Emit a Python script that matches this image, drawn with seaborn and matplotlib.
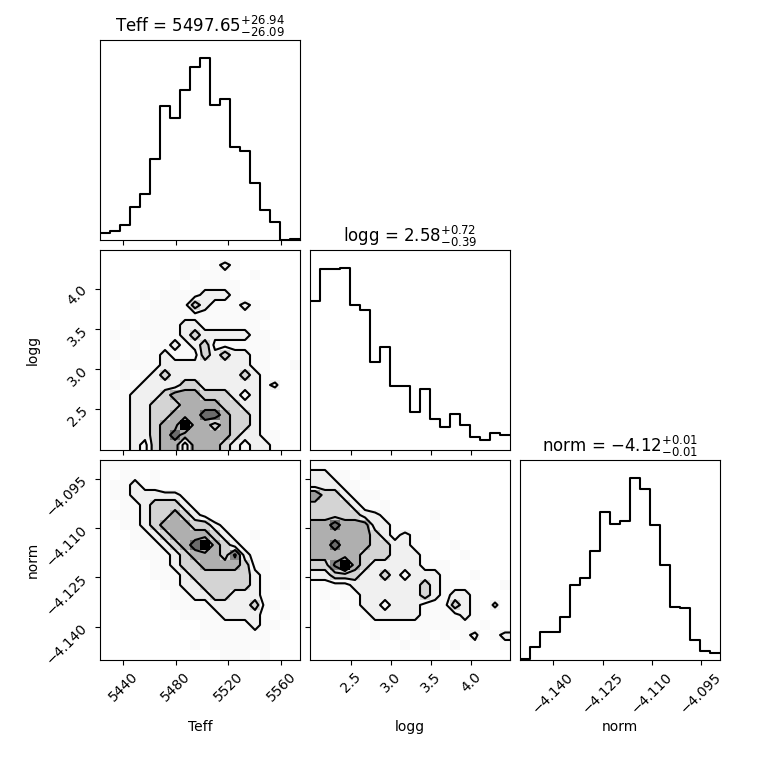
import numpy as np
import pandas as pd
import matplotlib
matplotlib.use("Agg")
import matplotlib.pyplot as plt
from matplotlib.colors import LinearSegmentedColormap
import seaborn as sns

plt.rcParams["font.family"] = ["DejaVu Sans"]

# parameter names and the summary printed in each title
labels = ["Teff", "logg", "norm"]
medians = ["5497.65", "2.58", "-4.12"]
err_lo = ["26.09", "0.39", "0.01"]
err_hi = ["26.94", "0.72", "0.01"]

# axis ranges and tick positions
teff_range = (5422.3, 5574.4)
logg_range = (1.995, 4.48)
norm_range = (-4.1501, -4.0893)
teff_ticks = [5440, 5480, 5520, 5560]
logg_ticks = [2.5, 3.0, 3.5, 4.0]
norm_ticks = [-4.140, -4.125, -4.110, -4.095]

# 1-D histograms (20 bins, relative counts)
teff_hist = [22, 28, 44, 98, 138, 244, 402, 366, 450, 518,
             545, 404, 423, 280, 267, 170, 90, 54, 0, 4]
logg_hist = [447, 540, 540, 544, 435, 420, 263, 309, 190, 190,
             113, 182, 92, 68, 108, 74, 38, 30, 52, 44]
norm_hist = [4, 38, 85, 85, 128, 224, 246, 326, 445, 409,
             418, 545, 512, 405, 286, 160, 155, 60, 27, 22]

# 2-D histograms (20x20, estimated), rows from top of panel to bottom
logg_vs_teff = [
    [0, 0, 0, 0, 0, 1, 0, 0, 0, 0, 0, 0, 0, 0, 0, 0, 0, 0, 0, 0],
    [0, 0, 0, 0, 0, 0, 0, 0, 1, 1, 0, 1, 2, 1, 0, 0, 0, 0, 0, 0],
    [0, 0, 0, 0, 0, 0, 0, 0, 1, 0, 1, 1, 1, 0, 0, 1, 0, 0, 0, 0],
    [0, 0, 0, 0, 0, 0, 0, 1, 0, 1, 1, 1, 1, 1, 0, 0, 0, 0, 0, 0],
    [0, 0, 0, 0, 1, 0, 1, 1, 1, 1, 2, 2, 2, 1, 0, 0, 0, 0, 0, 0],
    [0, 0, 0, 1, 0, 1, 1, 1, 1, 4, 2, 1, 1, 1, 2, 1, 0, 0, 0, 0],
    [0, 0, 0, 0, 1, 1, 1, 1, 1, 1, 1, 1, 1, 1, 1, 1, 1, 0, 0, 0],
    [0, 0, 1, 0, 1, 1, 1, 1, 2, 2, 1, 1, 1, 1, 1, 1, 0, 0, 0, 0],
    [0, 1, 0, 1, 1, 1, 1, 1, 2, 4, 2, 2, 2, 2, 2, 1, 1, 0, 0, 0],
    [0, 0, 0, 1, 0, 1, 1, 2, 1, 2, 4, 1, 1, 1, 1, 1, 1, 1, 0, 0],
    [0, 1, 0, 1, 1, 1, 2, 1, 1, 1, 4, 2, 4, 2, 2, 1, 1, 0, 0, 0],
    [0, 0, 1, 1, 1, 1, 2, 2, 2, 2, 2, 2, 2, 2, 2, 1, 1, 0, 0, 1],
    [0, 0, 1, 0, 1, 2, 4, 2, 2, 2, 2, 2, 2, 2, 4, 2, 1, 0, 0, 0],
    [0, 1, 0, 1, 2, 2, 2, 2, 4, 4, 2, 2, 2, 2, 2, 2, 1, 2, 0, 0],
    [0, 0, 1, 2, 2, 2, 4, 6, 6, 6, 4, 4, 4, 2, 1, 2, 1, 0, 0, 0],
    [0, 0, 1, 2, 2, 4, 4, 4, 6, 6, 6, 6, 4, 4, 2, 2, 1, 0, 0, 0],
    [0, 0, 1, 2, 2, 4, 4, 6, 6, 6, 9, 9, 6, 4, 4, 2, 1, 0, 0, 0],
    [0, 0, 1, 2, 2, 4, 6, 6, 13, 6, 6, 4, 6, 4, 4, 2, 1, 0, 0, 0],
    [0, 0, 1, 2, 2, 4, 6, 9, 6, 6, 6, 6, 6, 4, 2, 2, 1, 1, 0, 0],
    [0, 0, 1, 2, 1, 4, 6, 6, 2, 6, 6, 6, 4, 2, 1, 2, 2, 1, 0, 0],
]
norm_vs_teff = [
    [1, 1, 1, 0, 0, 0, 0, 0, 0, 0, 0, 0, 0, 0, 0, 0, 0, 0, 0, 0],
    [1, 0, 1, 1, 0, 1, 0, 0, 0, 0, 0, 0, 0, 0, 0, 0, 0, 0, 0, 0],
    [0, 1, 1, 2, 1, 1, 0, 0, 0, 0, 0, 0, 0, 0, 0, 0, 0, 0, 0, 0],
    [0, 1, 1, 2, 2, 2, 2, 2, 1, 0, 0, 0, 0, 0, 0, 0, 0, 0, 0, 0],
    [0, 0, 1, 1, 2, 4, 4, 4, 2, 1, 0, 0, 0, 0, 0, 0, 0, 0, 0, 0],
    [0, 1, 1, 1, 2, 4, 4, 6, 4, 2, 1, 0, 0, 0, 0, 0, 0, 0, 0, 0],
    [0, 0, 1, 1, 2, 4, 6, 6, 6, 4, 4, 2, 1, 0, 0, 0, 0, 0, 0, 0],
    [0, 0, 0, 1, 1, 2, 4, 6, 6, 6, 6, 4, 2, 1, 0, 1, 0, 0, 0, 0],
    [0, 0, 0, 1, 1, 1, 2, 4, 6, 9, 13, 6, 4, 2, 1, 0, 0, 0, 0, 0],
    [0, 0, 0, 0, 1, 1, 1, 2, 4, 6, 6, 6, 4, 8, 2, 1, 0, 0, 0, 0],
    [0, 0, 0, 0, 0, 1, 1, 2, 4, 4, 6, 6, 6, 6, 4, 1, 1, 0, 0, 0],
    [0, 0, 0, 0, 0, 1, 1, 1, 2, 4, 4, 4, 4, 4, 4, 2, 1, 0, 0, 0],
    [0, 0, 0, 0, 0, 0, 1, 1, 2, 2, 4, 4, 4, 4, 4, 2, 1, 0, 1, 0],
    [0, 0, 0, 0, 0, 0, 0, 1, 1, 2, 2, 4, 4, 2, 2, 2, 1, 0, 0, 0],
    [0, 0, 0, 0, 0, 0, 0, 1, 1, 1, 1, 2, 2, 2, 2, 4, 1, 1, 0, 0],
    [0, 0, 0, 0, 0, 0, 0, 0, 1, 1, 1, 1, 2, 2, 2, 2, 1, 0, 1, 0],
    [0, 0, 0, 0, 0, 0, 0, 0, 0, 0, 1, 1, 1, 1, 1, 2, 1, 1, 0, 0],
    [0, 0, 0, 0, 0, 0, 0, 0, 0, 0, 1, 1, 1, 1, 1, 1, 1, 0, 0, 0],
    [0, 0, 0, 0, 0, 0, 0, 0, 0, 1, 0, 1, 1, 1, 1, 1, 1, 0, 0, 0],
    [0, 0, 0, 0, 0, 0, 0, 0, 0, 0, 0, 0, 1, 1, 1, 0, 1, 0, 0, 0],
]
norm_vs_logg = [
    [1, 1, 0, 0, 0, 0, 0, 0, 0, 0, 0, 0, 0, 0, 0, 0, 0, 0, 0, 0],
    [2, 2, 1, 1, 0, 1, 0, 0, 0, 0, 0, 0, 0, 0, 0, 0, 0, 0, 0, 0],
    [2, 2, 2, 1, 1, 0, 0, 0, 0, 0, 0, 0, 0, 0, 0, 0, 0, 0, 0, 0],
    [7, 4, 4, 2, 1, 1, 1, 0, 0, 0, 0, 0, 0, 0, 0, 0, 0, 0, 0, 0],
    [4, 4, 4, 4, 2, 1, 0, 1, 0, 0, 0, 0, 0, 0, 0, 0, 0, 0, 0, 0],
    [4, 4, 4, 4, 4, 2, 2, 1, 0, 0, 0, 0, 1, 0, 0, 0, 0, 0, 0, 0],
    [6, 6, 9, 6, 6, 6, 2, 2, 1, 0, 0, 0, 0, 0, 0, 0, 0, 0, 0, 0],
    [6, 6, 6, 6, 6, 6, 4, 2, 1, 2, 1, 0, 1, 0, 0, 0, 0, 0, 0, 0],
    [6, 6, 9, 6, 6, 6, 4, 4, 2, 2, 1, 0, 0, 0, 1, 0, 0, 0, 0, 0],
    [6, 6, 6, 6, 6, 4, 4, 4, 2, 2, 2, 1, 0, 0, 0, 1, 0, 0, 0, 0],
    [4, 4, 8, 13, 6, 4, 2, 2, 2, 2, 2, 1, 1, 1, 0, 0, 0, 0, 0, 0],
    [2, 2, 4, 4, 4, 2, 2, 4, 2, 1, 2, 2, 2, 1, 0, 0, 1, 0, 0, 0],
    [1, 1, 1, 1, 2, 2, 2, 2, 2, 2, 2, 4, 2, 1, 1, 1, 0, 0, 0, 1],
    [0, 1, 0, 1, 1, 2, 2, 2, 2, 2, 2, 4, 2, 1, 2, 2, 1, 0, 0, 0],
    [0, 0, 1, 0, 1, 2, 2, 1, 2, 2, 2, 1, 1, 1, 4, 2, 1, 0, 2, 0],
    [0, 0, 0, 1, 0, 1, 2, 2, 2, 2, 2, 1, 1, 1, 1, 2, 1, 0, 0, 0],
    [0, 0, 0, 0, 1, 0, 1, 1, 1, 1, 1, 1, 1, 1, 1, 1, 0, 1, 0, 0],
    [0, 0, 0, 0, 0, 0, 1, 0, 1, 0, 1, 1, 0, 1, 0, 1, 2, 0, 1, 2],
    [0, 0, 0, 0, 0, 0, 0, 0, 0, 1, 0, 1, 1, 0, 1, 0, 1, 0, 0, 1],
    [0, 0, 0, 0, 0, 0, 0, 0, 0, 0, 0, 0, 0, 0, 0, 0, 0, 0, 0, 0],
]

# contour heights (2, 1.5, 1, 0.5 sigma regions of the grids above)
contour_levels = [1.5, 3.0, 5.0, 7.5]

ranges = [teff_range, logg_range, norm_range]
ticks = [teff_ticks, logg_ticks, norm_ticks]
hists = [teff_hist, logg_hist, norm_hist]
grids = {(1, 0): logg_vs_teff, (2, 0): norm_vs_teff, (2, 1): norm_vs_logg}

# white -> black, darkening slowly at low counts
_f = np.linspace(0, 1, 21)
density_cmap = LinearSegmentedColormap.from_list(
    "density", [(1 - v ** 1.5,) * 3 for v in _f])


def draw_1d(ax, counts, xr):
    edges = np.linspace(xr[0], xr[1], len(counts) + 1)
    centers = 0.5 * (edges[:-1] + edges[1:])
    df = pd.DataFrame({"x": centers, "w": counts})
    sns.histplot(data=df, x="x", weights="w", bins=len(counts), binrange=xr,
                 element="step", fill=False, color="k", linewidth=1.5, ax=ax)
    ax.set_ylim(0, 1.1 * max(counts))
    ax.set_yticks([])
    ax.set_ylabel("")


def draw_2d(ax, grid, xr, yr):
    H = np.flipud(np.array(grid, dtype=float))
    ny, nx = H.shape
    xe = np.linspace(xr[0], xr[1], nx + 1)
    ye = np.linspace(yr[0], yr[1], ny + 1)
    xc = 0.5 * (xe[:-1] + xe[1:])
    yc = 0.5 * (ye[:-1] + ye[1:])
    XX, YY = np.meshgrid(xc, yc)
    df = pd.DataFrame({"x": XX.ravel(), "y": YY.ravel(), "w": H.ravel()})
    sns.histplot(data=df, x="x", y="y", weights="w", bins=(nx, ny),
                 binrange=(xr, yr), cmap=density_cmap, vmin=0, vmax=H.max(), ax=ax)

    # pad so the contours close outside the axes like in corner
    Hp = np.pad(np.pad(H, 1, mode="edge"), 1, constant_values=0)
    dx, dy = xc[1] - xc[0], yc[1] - yc[0]
    xp = np.concatenate([xc[0] - dx * np.array([2, 1]), xc, xc[-1] + dx * np.array([1, 2])])
    yp = np.concatenate([yc[0] - dy * np.array([2, 1]), yc, yc[-1] + dy * np.array([1, 2])])
    ax.contour(xp, yp, Hp, levels=contour_levels, colors="k", linewidths=1.5)
    ax.set_xlabel("")
    ax.set_ylabel("")


fig, axes = plt.subplots(3, 3, figsize=(7.6, 7.6))
fig.subplots_adjust(left=0.1316, right=0.9474, bottom=0.1316, top=0.9474,
                    wspace=0.05, hspace=0.05)

for i in range(3):
    for j in range(3):
        ax = axes[i, j]
        if j > i:
            ax.set_frame_on(False)
            ax.set_xticks([])
            ax.set_yticks([])
            continue
        if i == j:
            draw_1d(ax, hists[i], ranges[i])
            title = f"{labels[i]} = ${medians[i]}_{{-{err_lo[i]}}}^{{+{err_hi[i]}}}$"
            ax.set_title(title, fontsize=12)
        else:
            draw_2d(ax, grids[(i, j)], ranges[j], ranges[i])
            ax.set_ylim(ranges[i])
            ax.set_yticks(ticks[i])
            if j == 0:
                ax.set_ylabel(labels[i])
                ax.yaxis.set_label_coords(-0.3, 0.5)
                for lab in ax.get_yticklabels():
                    lab.set_rotation(45)
            else:
                ax.set_yticklabels([])
        ax.set_xlim(ranges[j])
        ax.set_xticks(ticks[j])
        if i < 2:
            ax.set_xticklabels([])
        else:
            ax.set_xlabel(labels[j])
            ax.xaxis.set_label_coords(0.5, -0.3)
            for lab in ax.get_xticklabels():
                lab.set_rotation(45)

fig.savefig("out.png", dpi=100)
